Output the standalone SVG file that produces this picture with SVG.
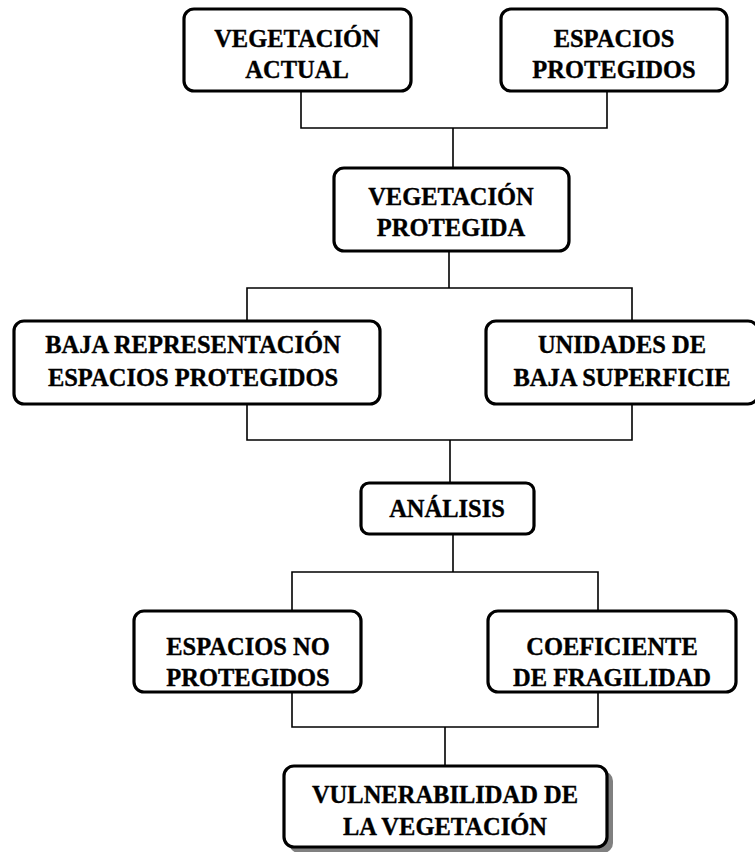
<svg xmlns="http://www.w3.org/2000/svg" width="755" height="852" viewBox="0 0 755 852">
<style>
.box{fill:#fff;stroke:#000;stroke-width:3.2}
.sh{fill:#808080}
.t{font-family:"Liberation Serif","Times New Roman",serif;font-weight:bold;font-size:24.5px;text-anchor:middle;fill:#000;stroke:#000;stroke-width:0.35}
.c{fill:none;stroke:#000;stroke-width:1.6}
</style>
<rect width="755" height="852" fill="#fff"/>
<g id="connectors">
<path class="c" d="M301 92V128H607V92M453 128V167"/>
<path class="c" d="M449 252V288M247 320V288H632V320"/>
<path class="c" d="M247 405V440H632V405M450 440V482"/>
<path class="c" d="M453 535V572M292 610V572H598V610"/>
<path class="c" d="M292 693V727H598V693M445 727V765"/>
</g>
<g id="n1"><rect class="box" x="184" y="9" width="227" height="82" rx="10"/><text class="t" x="297" y="47">VEGETACIÓN</text><text class="t" x="297" y="78">ACTUAL</text></g>
<g id="n2"><rect class="box" x="501" y="9" width="226" height="82" rx="10"/><text class="t" x="614" y="47">ESPACIOS</text><text class="t" x="614" y="78">PROTEGIDOS</text></g>
<g id="n3"><rect class="box" x="334" y="168" width="235" height="83" rx="10"/><text class="t" x="451" y="205">VEGETACIÓN</text><text class="t" x="451" y="236">PROTEGIDA</text></g>
<g id="n4"><rect class="box" x="14" y="321" width="366" height="83" rx="10"/><text class="t" x="193" y="353">BAJA REPRESENTACIÓN</text><text class="t" x="193" y="386">ESPACIOS PROTEGIDOS</text></g>
<g id="n5"><rect class="box" x="486" y="321" width="272" height="83" rx="10"/><text class="t" x="622" y="353">UNIDADES DE</text><text class="t" x="622" y="386">BAJA SUPERFICIE</text></g>
<g id="n6"><rect class="box" x="361" y="483" width="173" height="51" rx="8"/><text class="t" x="447" y="517">ANÁLISIS</text></g>
<g id="n7"><rect class="box" x="134" y="611" width="227" height="81" rx="10"/><text class="t" x="248" y="655">ESPACIOS NO</text><text class="t" x="248" y="686">PROTEGIDOS</text></g>
<g id="n8"><rect class="box" x="488" y="611" width="248" height="81" rx="10"/><text class="t" x="612" y="655">COEFICIENTE</text><text class="t" x="612" y="686">DE FRAGILIDAD</text></g>
<g id="n9"><rect class="sh" x="289" y="771" width="324" height="82" rx="10"/><rect class="box" x="284" y="766" width="323" height="81" rx="10"/><text class="t" x="445" y="803">VULNERABILIDAD DE</text><text class="t" x="445" y="835">LA VEGETACIÓN</text></g>
</svg>
